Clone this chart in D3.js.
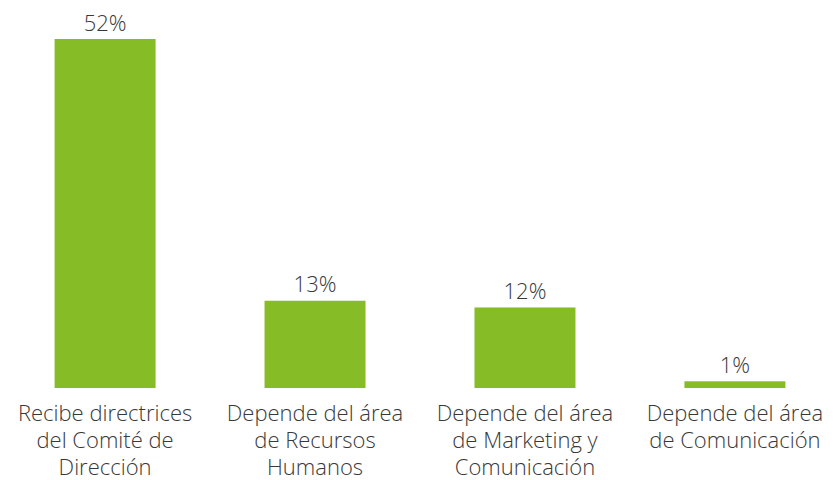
<!DOCTYPE html>
<html>
<head>
<meta charset="utf-8">
<script src="https://cdn.jsdelivr.net/npm/d3@7"></script>
<style>
  body { margin: 0; background: #fff; }
  svg text { font-family: 'Open Sans', sans-serif; font-weight: 300; fill: #383838; }
</style>
</head>
<body>
<div id="chart"></div>
<script>
var categories = [
    ['Recibe directrices', 'del Comité de', 'Dirección'],
    ['Depende del área', 'de Recursos', 'Humanos'],
    ['Depende del área', 'de Marketing y', 'Comunicación'],
    ['Depende del área', 'de Comunicación']
];
var values = [52, 13, 12, 1];
var valueLabels = ['52%', '13%', '12%', '1%'];

var width = 835, height = 480;
var baseline = 388;

var svg = d3.select('#chart').append('svg')
    .attr('width', width)
    .attr('height', height);

var x = d3.scaleBand()
    .domain(d3.range(values.length))
    .range([0, 840])
    .paddingInner(0.519)
    .paddingOuter(0.26);

// 52% bar top sits at y=39
var y = d3.scaleLinear()
    .domain([0, 52])
    .range([baseline, 39]);

svg.selectAll('rect.bar')
    .data(values)
    .enter().append('rect')
    .attr('class', 'bar')
    .attr('x', function(d, i) { return x(i); })
    .attr('y', function(d) { return y(d); })
    .attr('width', x.bandwidth())
    .attr('height', function(d) { return baseline - y(d); })
    .attr('fill', '#86bc25');

svg.selectAll('text.val')
    .data(values)
    .enter().append('text')
    .attr('class', 'val')
    .attr('x', function(d, i) { return x(i) + x.bandwidth() / 2; })
    .attr('y', function(d) { return y(d) - 8.5; })
    .attr('text-anchor', 'middle')
    .style('font-size', '22px')
    .text(function(d, i) { return valueLabels[i]; });

svg.selectAll('text.cat')
    .data(categories)
    .enter().append('text')
    .attr('class', 'cat')
    .attr('text-anchor', 'middle')
    .style('font-size', '22px')
    .each(function(lines, i) {
        var t = d3.select(this);
        var cx = x(i) + x.bandwidth() / 2;
        lines.forEach(function(line, j) {
            t.append('tspan')
                .attr('x', cx)
                .attr('y', 421 + j * 27)
                .text(line);
        });
    });
</script>
</body>
</html>
